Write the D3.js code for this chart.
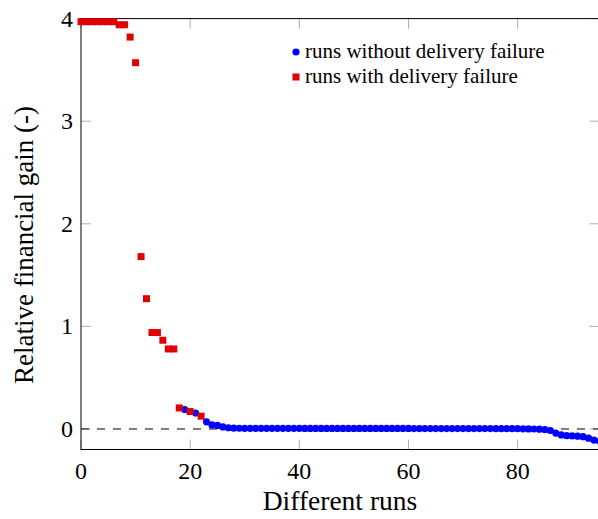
<!DOCTYPE html>
<html>
<head>
<meta charset="utf-8">
<script src="https://cdn.jsdelivr.net/npm/d3@7"></script>
<style>
  body { margin: 0; background: #fff; }
  text { font-family: "Liberation Serif", serif; fill: #000; }
</style>
</head>
<body>
<div id="chart"></div>
<script>
var redRuns = [0, 1, 2, 3, 4, 5, 6, 7, 8, 9, 10, 11, 12, 13, 14, 15, 16, 17, 18, 20, 22];
var redGain = [3.97, 3.97, 3.97, 3.97, 3.97, 3.97, 3.97, 3.94, 3.94, 3.82, 3.57, 1.68, 1.27, 0.94, 0.94, 0.865, 0.78, 0.78, 0.205, 0.17, 0.125];

var blueRuns = [19, 21, 23, 24, 25, 26, 27, 28, 29,
  30, 31, 32, 33, 34, 35, 36, 37, 38, 39, 40,
  41, 42, 43, 44, 45, 46, 47, 48, 49, 50, 51, 52, 53, 54, 55, 56, 57, 58, 59, 60,
  61, 62, 63, 64, 65, 66, 67, 68, 69, 70, 71, 72, 73, 74, 75,
  76, 77, 78, 79, 80,
  81, 82, 83, 84, 85, 86, 87, 88, 89, 90, 91, 92, 93, 94, 95];
var blueGain = [0.19, 0.155, 0.07, 0.04, 0.035, 0.02, 0.012, 0.009, 0.007,
  0.006, 0.006, 0.006, 0.006, 0.006, 0.006, 0.006, 0.006, 0.006, 0.006, 0.006,
  0.005, 0.005, 0.005, 0.005, 0.005, 0.005, 0.005, 0.005, 0.005, 0.005, 0.005, 0.005, 0.005, 0.005, 0.005, 0.005, 0.005, 0.005, 0.005, 0.005,
  0.004, 0.004, 0.004, 0.004, 0.004, 0.004, 0.004, 0.004, 0.004, 0.004, 0.004, 0.004, 0.004, 0.004, 0.004,
  0.003, 0.003, 0.003, 0.003, 0.003,
  0.002, 0.001, 0.0, -0.002, -0.006, -0.015, -0.04, -0.058, -0.065, -0.068, -0.07, -0.075, -0.09, -0.108, -0.12];

var xTicks = [0, 20, 40, 60, 80];
var yTicks = [0, 1, 2, 3, 4];
var legendLabels = ["runs without delivery failure", "runs with delivery failure"];

(function() {
  var width = 598, height = 519;
  var mLeft = 81, mRight = 599.5, mTop = 18.6, mBottom = 449.5;

  var x = d3.scaleLinear().domain([0, 95]).range([mLeft, mRight]);
  var y = d3.scaleLinear().domain([-0.2, 4]).range([mBottom, mTop]);

  var svg = d3.select("#chart").append("svg")
    .attr("width", width).attr("height", height);

  // inward gray ticks on all four sides
  var tickLen = 10;
  var ticks = svg.append("g").attr("stroke", "#999").attr("stroke-width", 0.8);
  xTicks.forEach(function(t) {
    ticks.append("line").attr("x1", x(t)).attr("x2", x(t)).attr("y1", mBottom).attr("y2", mBottom - tickLen);
    ticks.append("line").attr("x1", x(t)).attr("x2", x(t)).attr("y1", mTop).attr("y2", mTop + tickLen);
  });
  yTicks.forEach(function(t) {
    ticks.append("line").attr("x1", mLeft).attr("x2", mLeft + tickLen).attr("y1", y(t)).attr("y2", y(t));
    ticks.append("line").attr("x1", mRight).attr("x2", mRight - tickLen).attr("y1", y(t)).attr("y2", y(t));
  });

  // zero line
  svg.append("line")
    .attr("x1", mLeft).attr("x2", mRight)
    .attr("y1", y(0)).attr("y2", y(0))
    .attr("stroke", "#000").attr("stroke-width", 1)
    .attr("stroke-dasharray", "8,8");

  // frame
  svg.append("rect")
    .attr("x", mLeft).attr("y", mTop)
    .attr("width", mRight - mLeft).attr("height", mBottom - mTop)
    .attr("fill", "none").attr("stroke", "#000").attr("stroke-width", 1);

  // tick labels
  svg.append("g").selectAll("text").data(xTicks).enter().append("text")
    .attr("x", function(d) { return x(d); })
    .attr("y", mBottom + 29)
    .attr("text-anchor", "middle")
    .attr("font-size", 24)
    .text(function(d) { return d; });

  svg.append("g").selectAll("text").data(yTicks).enter().append("text")
    .attr("x", mLeft - 8)
    .attr("y", function(d) { return y(d) + 8; })
    .attr("text-anchor", "end")
    .attr("font-size", 24)
    .text(function(d) { return d; });

  // axis titles
  svg.append("text")
    .attr("x", 340).attr("y", 510)
    .attr("text-anchor", "middle")
    .attr("font-size", 27.5)
    .text("Different runs");

  svg.append("text")
    .attr("transform", "translate(33,245) rotate(-90)")
    .attr("text-anchor", "middle")
    .attr("font-size", 27)
    .text("Relative financial gain (-)");

  // points
  var blue = blueRuns.map(function(r, i) { return {run: r, gain: blueGain[i]}; });
  var red = redRuns.map(function(r, i) { return {run: r, gain: redGain[i]}; });

  svg.append("g").selectAll("circle").data(blue).enter().append("circle")
    .attr("cx", function(d) { return x(d.run); })
    .attr("cy", function(d) { return y(d.gain); })
    .attr("r", 3.6)
    .attr("fill", "#0000ff");

  svg.append("g").selectAll("rect").data(red).enter().append("rect")
    .attr("x", function(d) { return x(d.run) - 3.5; })
    .attr("y", function(d) { return y(d.gain) - 3.5; })
    .attr("width", 7).attr("height", 7)
    .attr("fill", "#e00000");

  // legend
  var legend = svg.append("g").attr("transform", "translate(296,52)");
  legend.append("circle").attr("cx", 0).attr("cy", 0).attr("r", 3.6).attr("fill", "#0000ff");
  legend.append("rect").attr("x", -3.5).attr("y", 25 - 3.5).attr("width", 7).attr("height", 7).attr("fill", "#e00000");
  legend.selectAll("text").data(legendLabels).enter().append("text")
    .attr("x", 9)
    .attr("y", function(d, i) { return i * 25 + 6; })
    .attr("font-size", 21)
    .text(function(d) { return d; });
})();
</script>
</body>
</html>
